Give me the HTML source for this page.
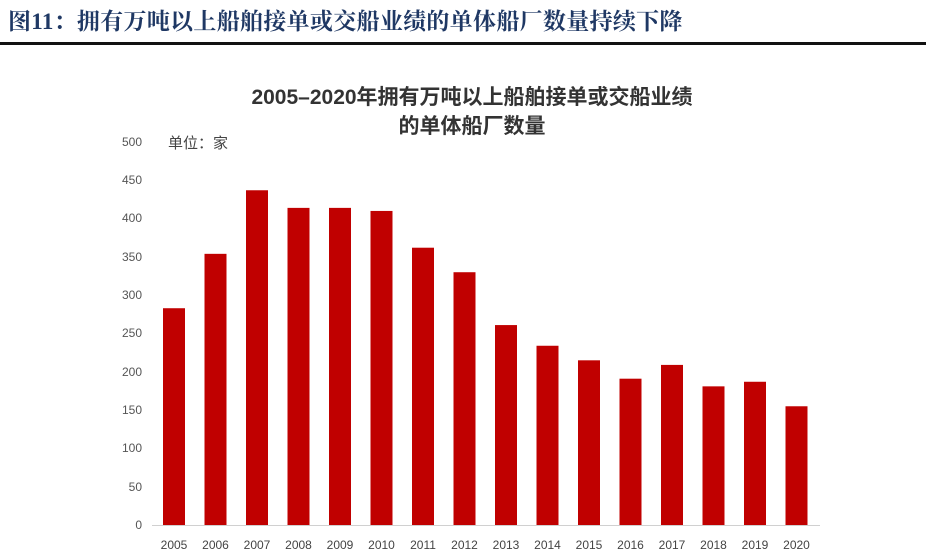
<!DOCTYPE html>
<html><head><meta charset="utf-8"><style>
body{margin:0;width:947px;height:555px;background:#fff;overflow:hidden;position:relative;font-family:"Liberation Sans","Noto Sans CJK SC",sans-serif}
.h{position:absolute;left:8px;top:3px;font:bold 23px "Liberation Serif","Noto Serif CJK SC",serif;color:#1f3864;letter-spacing:0.3px}
.rule{position:absolute;left:0;top:42px;width:926px;height:3px;background:#111}
</style></head><body>
<div class="h">图11：拥有万吨以上船舶接单或交船业绩的单体船厂数量持续下降</div>
<div class="rule"></div>
<svg width="947" height="555" style="position:absolute;left:0;top:0">
<g font-family="Liberation Sans,Noto Sans CJK SC,sans-serif" font-weight="bold" font-size="21" fill="#333" text-anchor="middle">
<text x="472" y="104">2005–2020年拥有万吨以上船舶接单或交船业绩</text>
<text x="472" y="133">的单体船厂数量</text>
</g>
<text x="168" y="148" font-size="15" fill="#444" font-family="Liberation Sans,Noto Sans CJK SC,sans-serif">单位：家</text>
<g font-size="12" fill="#555" text-anchor="end" font-family="Liberation Sans,sans-serif">
<text x="142" y="529">0</text><text x="142" y="491">50</text><text x="142" y="452">100</text><text x="142" y="414">150</text><text x="142" y="376">200</text><text x="142" y="337">250</text><text x="142" y="299">300</text><text x="142" y="261">350</text><text x="142" y="222">400</text><text x="142" y="184">450</text><text x="142" y="146">500</text>
</g>
<line x1="152" y1="525.5" x2="820" y2="525.5" stroke="#d0d0d0" stroke-width="1"/>
<g fill="#c00000" id="bars"></g>
<g font-size="12" fill="#444" text-anchor="middle" font-family="Liberation Sans,sans-serif" id="yrs"></g>
</svg>
<script>
var v=[283,354,437,414,414,410,362,330,261,234,215,191,209,181,187,155];
var b=document.getElementById('bars'),y=document.getElementById('yrs'),ns='http://www.w3.org/2000/svg';
v.forEach(function(d,i){var cx=174+i*41.5,h=d*0.766;
var r=document.createElementNS(ns,'rect');r.setAttribute('x',cx-11);r.setAttribute('y',525-h);r.setAttribute('width',22);r.setAttribute('height',h);b.appendChild(r);
var t=document.createElementNS(ns,'text');t.setAttribute('x',cx);t.setAttribute('y',549);t.textContent=2005+i;y.appendChild(t);});
</script>
</body></html>
